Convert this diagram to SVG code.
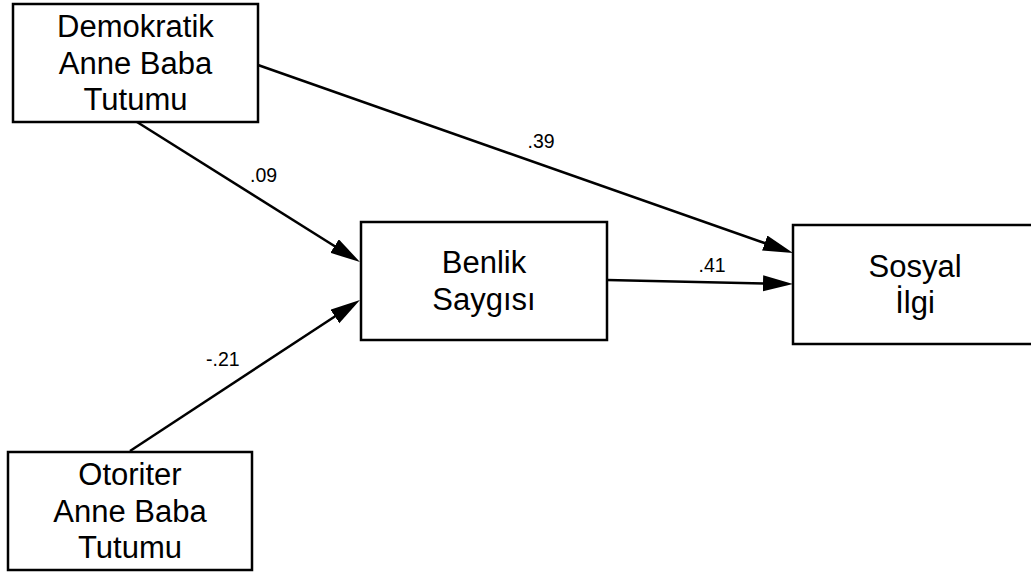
<svg xmlns="http://www.w3.org/2000/svg" width="1031" height="574" viewBox="0 0 1031 574">
<style>
.box{fill:#fff;stroke:#000;stroke-width:2.5}
.t{font-family:"Liberation Sans",Arial,sans-serif;font-size:31px;fill:#000;text-anchor:middle}
.lbl{font-family:"Liberation Sans",Arial,sans-serif;font-size:19.5px;fill:#000}
.edge{stroke:#000;stroke-width:2.5;fill:none;marker-end:url(#ah)}
</style>
<defs>
<marker id="ah" markerUnits="userSpaceOnUse" markerWidth="32" markerHeight="18" refX="20" refY="8" orient="auto" viewBox="0 0 32 18">
<path d="M0,0 L30,8 L0,16 Z" fill="#000"/>
</marker>
</defs>
<rect width="1031" height="574" fill="#fff"/>
<g id="connectors">
<line class="edge" x1="137" y1="122" x2="351.5" y2="256.7"/>
<line class="edge" x1="130" y1="451" x2="351.6" y2="305.5"/>
<line class="edge" x1="258" y1="65" x2="783.6" y2="249.7"/>
<line class="edge" x1="607" y1="280" x2="783" y2="283.8"/>
<text class="lbl" x="250" y="182">.09</text>
<text class="lbl" x="206" y="366">-.21</text>
<text class="lbl" x="527.5" y="148">.39</text>
<text class="lbl" x="698.5" y="272">.41</text>
</g>
<g id="demokratik">
<rect class="box" x="13" y="4" width="245" height="118"/>
<text class="t" x="135.5" y="37">Demokratik</text>
<text class="t" x="135.5" y="74">Anne Baba</text>
<text class="t" x="135.5" y="110">Tutumu</text>
</g>
<g id="benlik">
<rect class="box" x="361" y="222" width="246" height="118"/>
<text class="t" x="484" y="273">Benlik</text>
<text class="t" x="484" y="310">Saygısı</text>
</g>
<g id="sosyal">
<rect class="box" x="793" y="225" width="246" height="119"/>
<text class="t" x="915" y="277">Sosyal</text>
<text class="t" x="915" y="313">İlgi</text>
</g>
<g id="otoriter">
<rect class="box" x="8" y="452" width="244" height="118"/>
<text class="t" x="130" y="485">Otoriter</text>
<text class="t" x="130" y="522">Anne Baba</text>
<text class="t" x="130" y="558">Tutumu</text>
</g>
</svg>
